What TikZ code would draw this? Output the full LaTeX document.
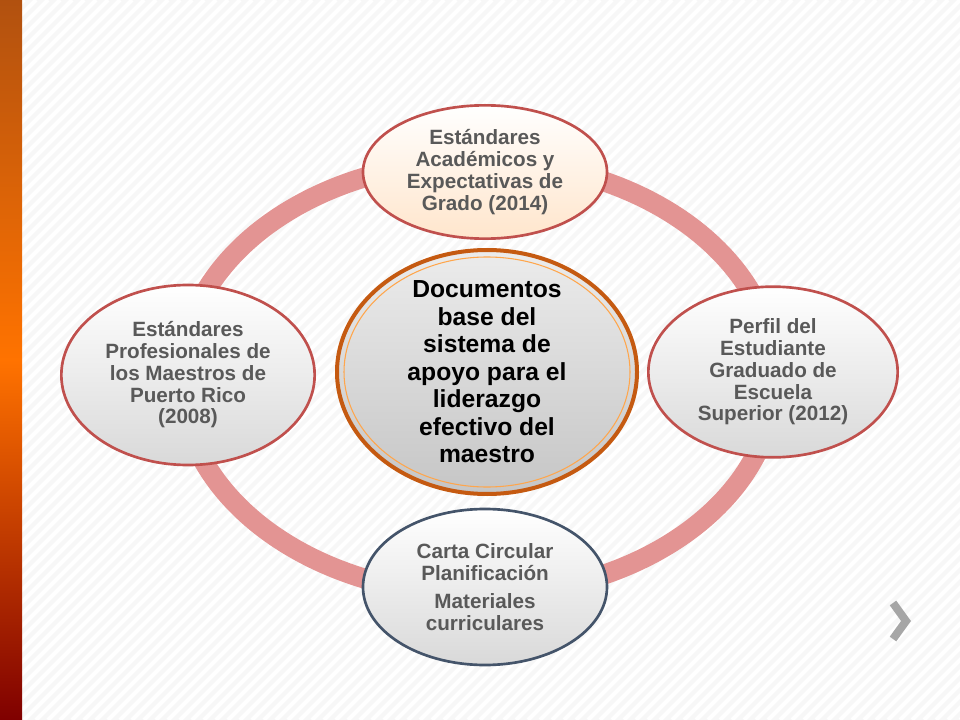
\documentclass[tikz,border=0pt]{standalone}
\usepackage{fontspec}
\setmainfont{Liberation Sans}
\usetikzlibrary{shapes.geometric}
\definecolor{ringc}{HTML}{E39493}
\definecolor{redb}{HTML}{C0504D}
\definecolor{slate}{HTML}{44546A}
\definecolor{txt}{HTML}{595959}
\definecolor{orb}{HTML}{C55A11}
\tikzset{
 otext/.style={align=center,text=txt,font=\bfseries\fontsize{15.5}{16.3}\selectfont},
}
\begin{document}
\begin{tikzpicture}[x=0.75pt,y=-0.75pt]
\useasboundingbox (0,0) rectangle (960,720);
\fill[gray!6] (0,0) rectangle (960,720);
\foreach \i in {0,12,...,1700}{\draw[white,line width=3pt] (\i,0) -- (\i-720,720);}
\clip (0,0) rectangle (960,720);
\shade[top color=orb!90!black,bottom color=red!50!black,middle color=orange!90!red] (0,0) rectangle (22,720);
\draw[ringc,line width=15pt] (478,378) ellipse [x radius=297,y radius=217];
\node[ellipse,draw=redb,line width=2pt,top color=white,bottom color=orange!20,minimum width=183pt,minimum height=100pt] (top) at (485,172) {};
\node[otext] (topt) at (top) {Estándares\\Académicos y\\Expectativas de\\Grado (2014)};
\node[ellipse,draw=redb,line width=2pt,top color=white,bottom color=gray!30,minimum width=190pt,minimum height=135pt] (left) at (188,375) {};
\node[otext] (leftt) at (left) {Estándares\\Profesionales de\\los Maestros de\\Puerto Rico\\(2008)};
\node[ellipse,draw=redb,line width=2pt,top color=white,bottom color=gray!30,minimum width=187pt,minimum height=128pt] (right) at (773,372) {};
\node[otext] (rightt) at (right) {Perfil del\\Estudiante\\Graduado de\\Escuela\\Superior (2012)};
\node[ellipse,draw=slate,line width=2pt,top color=white,bottom color=gray!30,minimum width=183pt,minimum height=117pt] (bot) at (485,587) {};
\node[otext] (bott) at (485,587) {Carta Circular\\Planificación\\[5pt]Materiales\\curriculares};
\node[ellipse,draw=orb,line width=3pt,top color=gray!15,bottom color=gray!45,minimum width=225pt,minimum height=183pt] (mid) at (487,372) {};
\draw[orange!70,line width=0.8pt] (487,372) ellipse [x radius=143,y radius=115];
\node[align=center,font=\bfseries\fontsize{18.5}{20.6}\selectfont] (midt) at (487,372) {Documentos\\base del\\sistema de\\apoyo para el\\liderazgo\\efectivo del\\maestro};
\draw[gray!70,line width=6pt] (893,603) -- (906,621) -- (893,639);
\end{tikzpicture}
\end{document}
